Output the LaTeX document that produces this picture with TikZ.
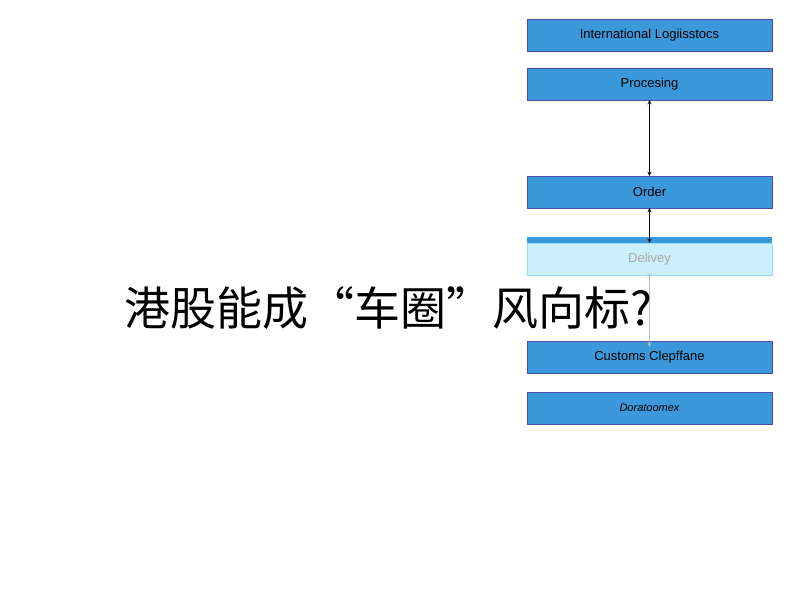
\documentclass[tikz,border=0pt]{standalone}
\usepackage{fontspec}
\setmainfont{Liberation Sans}
\newfontfamily\cjk{Noto Sans CJK SC}
\usetikzlibrary{positioning}
\begin{document}
\begin{tikzpicture}[
       x=1pt,y=-1pt,
       stap/.style={
         rectangle,
         draw=blue!50!black!70,
         fill=cyan!70!blue!80,
         minimum width=245pt,
         minimum height=32pt,
         inner sep=0pt,
         font=\fontsize{13}{15}\selectfont
       },
       pijl/.style={<->,>=stealth,thick}
     ]
       \useasboundingbox (0,0) rectangle (800,600);

       \node (int) at (649.5,35) [stap]{International Logiisstocs};
       \node (proc) at (649.5,84) [stap]{Procesing};
       \node (ord) at (649.5,192) [stap]{Order};
       \node (del) at (649.5,259) [stap,fill=cyan!20,draw=cyan!40,text=black!35]{};
       \fill[cyan!70!blue!80] (del.north west) rectangle ([yshift=6pt]del.north east);
       \node at (del) [font=\fontsize{13}{15}\selectfont,text=black!35]{Delivey};
       \node (cus) at (649.5,357) [stap]{Customs Clepffane};
       \node (dor) at (649.5,408) [stap,font=\fontsize{11}{13}\selectfont\itshape]{Doratoomex};

       \draw[pijl] (proc) -- (ord);
       \draw[pijl] (ord) -- (del);
       \draw[pijl,black!25] ([yshift=2pt]del.south) -- ([yshift=-6pt]cus.north);

       \node (titel) at (388,308) [font=\cjk\fontsize{46}{50}\selectfont]{港股能成“车圈”风向标?};
\end{tikzpicture}
\end{document}
